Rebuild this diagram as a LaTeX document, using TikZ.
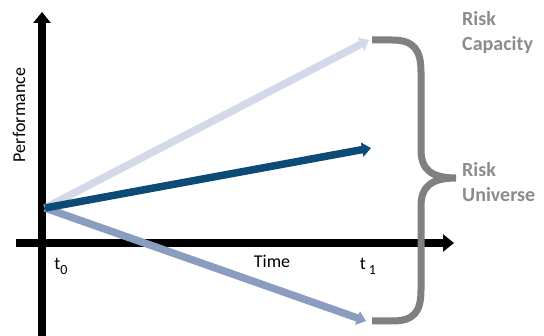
\documentclass[tikz,border=0pt]{standalone}
\usepackage{fontspec}
\setmainfont{Carlito}
\usetikzlibrary{arrows.meta,positioning}
\definecolor{riskLight}{HTML}{D3D9E8}
\definecolor{riskMid}{HTML}{8A9DC0}
\definecolor{riskDark}{HTML}{0D4B77}
\definecolor{braceGray}{HTML}{808080}
\definecolor{labelGray}{HTML}{8C8C8C}
\newcommand{\lowsub}[1]{\raisebox{-5pt}{\fontsize{14}{14}\selectfont #1}}

\begin{document}
\begin{tikzpicture}[x=1pt,y=-1pt,
  ax/.style={line width=7.5pt,-{Triangle[length=11pt,width=17pt]}},
  pa/.style={line width=7.5pt,-{Triangle[length=9pt,width=14pt]}},
  lb/.style={font=\fontsize{18}{20}\selectfont,inner sep=0pt},
  rk/.style={font=\fontsize{20}{25}\selectfont\bfseries,text=labelGray,align=left,anchor=west,inner sep=0pt}]
\useasboundingbox (0,0) rectangle (544,336);
% axes
\coordinate (ybot) at (42,340);
\coordinate (ytop) at (42,12);
\coordinate (xleft) at (16,243);
\coordinate (xright) at (454,243);
\draw[ax] (ybot)--(ytop);
\draw[ax] (xleft)--(xright);
% scenario arrows
\coordinate (o) at (45,208);
\coordinate (hi) at (369,40);
\coordinate (mid) at (371,148);
\coordinate (lo) at (366,321);
\draw[pa,riskLight] (o)--(hi);
\draw[pa,riskMid] (o)--(lo);
\draw[pa,riskDark] (o)--(mid);
% brace
\draw[braceGray,line width=7pt] (372,40) -- (392,40) .. controls (414,40) and (421,50) .. (421,72)
  -- (421,150) .. controls (421,170) and (432,178) .. (456,178)
  .. controls (432,178) and (421,186) .. (421,206)
  -- (421,290) .. controls (421,312) and (414,321) .. (392,321) -- (372,321);
% labels
\node[lb,rotate=90] (perf) at (19,115) {Performance};
\node[lb] (time) at (272,261) {Time};
\node[lb] (t0) at (61,266) {t\lowsub{0}};
\node[lb] (t1) at (368,266) {t\,\lowsub{1}};
\node[rk] (cap) at (462,33) {Risk\\Capacity};
\node[rk] (uni) at (462,182) {Risk\\Universe};
\end{tikzpicture}
\end{document}
